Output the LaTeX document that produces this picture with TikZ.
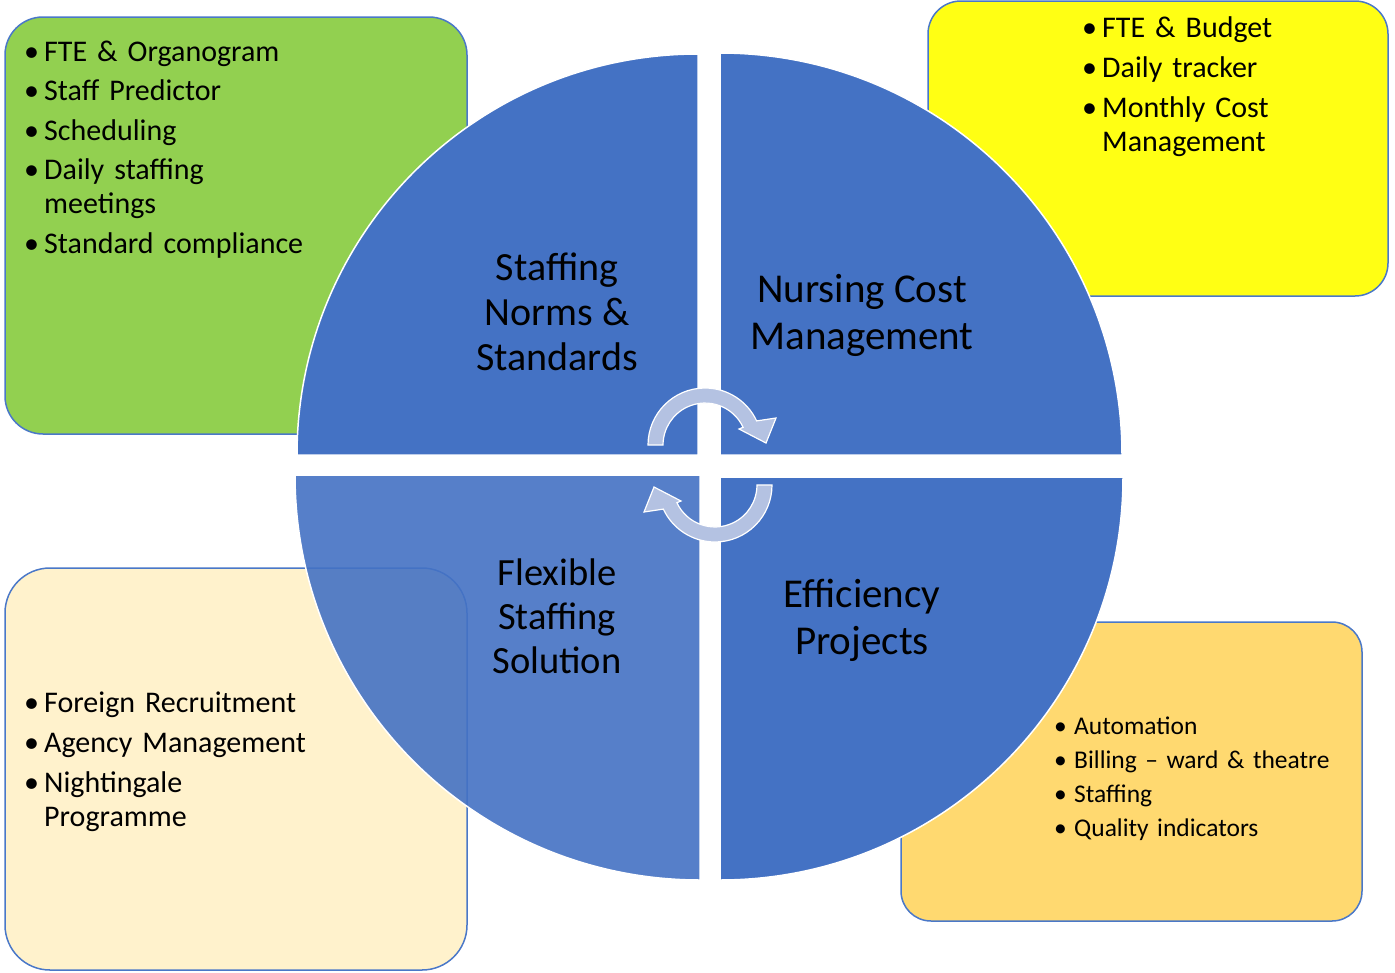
\documentclass[tikz,border=0pt]{standalone}
\usepackage{fontspec}
\setmainfont{Carlito}
\definecolor{qblue}{HTML}{4472C4}
\definecolor{lineblue}{HTML}{4A78C8}
\definecolor{gfill}{HTML}{92D050}
\definecolor{yfill}{HTML}{FFFF14}
\definecolor{bfill}{HTML}{FFF2CC}
\definecolor{ofill}{HTML}{FFD970}
\definecolor{afill}{RGB}{180,194,226}
\newcommand{\bl}[1]{\hangindent=20pt\hangafter=1\noindent\makebox[20pt][l]{\textbullet}#1\par}
\tikzset{
  infobox/.style={draw=lineblue, line width=1.5pt},
  quad/.style={fill=qblue, draw=white, line width=1.5pt},
  cyc/.style={fill=afill, draw=white, line width=1.2pt, line join=miter},
  lbl/.style={align=center, inner sep=0pt, anchor=base, text=black},
  lst/.style={inner sep=0pt, anchor=base west, text width=440pt, text=black},
}
\begin{document}
\begin{tikzpicture}[x=1pt,y=-1pt]
\useasboundingbox (0,0) rectangle (1395,972);
\fill[white] (0,0) rectangle (1395,972);
% boxes
\draw[infobox, fill=gfill, rounded corners=38pt] (5,17) rectangle (467,434);
\draw[infobox, fill=yfill, rounded corners=33pt] (928,1) rectangle (1388,296);
\draw[infobox, fill=bfill, rounded corners=45pt] (5,568) rectangle (467,970);
\draw[infobox, fill=ofill, rounded corners=30pt] (901,622) rectangle (1362,921);
% quadrants
\path[quad] (698,455) -- (297,455) arc[start angle=180, end angle=270, radius=401] -- cycle;
\path[quad] (720,455) -- (720,53) arc[start angle=270, end angle=360, radius=402] -- cycle;
\path[quad, fill opacity=0.9] (700,475) -- (295,475) arc[start angle=180, end angle=90, radius=405] -- cycle;
\path[quad] (720,477) -- (1123,477) arc[start angle=0, end angle=90, radius=403] -- cycle;
% circular arrows
\path[cyc] (648,445) arc[start angle=180, end angle=335, radius=57]
  -- (776,418) -- (766,443) -- (739,429) -- (743.1,427.3)
  arc[start angle=335, end angle=180, radius=42] -- cycle;
\begin{scope}[rotate around={180:(710,465)}]
\path[cyc] (648,445) arc[start angle=180, end angle=335, radius=57]
  -- (776,418) -- (766,443) -- (739,429) -- (743.1,427.3)
  arc[start angle=335, end angle=180, radius=42] -- cycle;
\end{scope}
% quadrant labels (anchor = baseline of last line)
\node[lbl, font=\fontsize{40}{45}\selectfont] (q1) at (557,370) {Staffing\\Norms \&\\Standards};
\node[lbl, font=\fontsize{41}{47}\selectfont] (q2) at (862,349) {Nursing Cost\\Management};
\node[lbl, font=\fontsize{38.5}{44}\selectfont] (q3) at (557,673) {Flexible\\Staffing\\Solution};
\node[lbl, font=\fontsize{41}{47}\selectfont] (q4) at (862,654) {Efficiency\\Projects};
% lists
\node[lst, font=\fontsize{30}{34}\selectfont] (l1) at (24,61) {\setlength{\parskip}{5.5pt}%
\bl{FTE \& Organogram}\bl{Staff Predictor}\bl{Scheduling}\bl{Daily staffing\newline meetings}\bl{Standard compliance}};
\node[lst, font=\fontsize{30}{34}\selectfont] (l2) at (1082,37) {\setlength{\parskip}{6pt}%
\bl{FTE \& Budget}\bl{Daily tracker}\bl{Monthly Cost\newline Management}};
\node[lst, font=\fontsize{30}{34}\selectfont] (l3) at (24,712) {\setlength{\parskip}{6pt}%
\bl{Foreign Recruitment}\bl{Agency Management}\bl{Nightingale\newline Programme}};
\node[lst, font=\fontsize{25.5}{34}\selectfont] (l4) at (1054,734) {%
\bl{Automation}\bl{Billing – ward \& theatre}\bl{Staffing}\bl{Quality indicators}};
\end{tikzpicture}
\end{document}
